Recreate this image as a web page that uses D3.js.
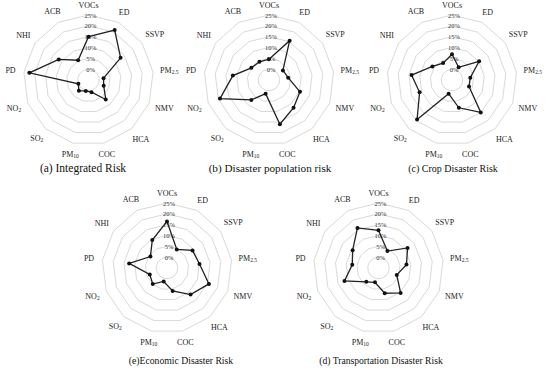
<!DOCTYPE html>
<head>
  <meta charset="utf-8">
  <title>Radar risk charts</title>
  <style>
    body { margin: 0; background: #fff; }
    svg text { font-family: "Liberation Serif", "Times New Roman", serif; }
  </style>
</head>

<body>
  <div id="chart"></div>

  <script src="https://cdn.jsdelivr.net/npm/d3@7"></script>
  <script type="text/javascript">

    // axis names, clockwise from the top
    var categories = ["VOCs", "ED", "SSVP", "PM2.5", "NMV", "HCA", "COC", "PM10", "SO2", "NO2", "PD", "NHI", "ACB"];
    var tickValues = [0, 5, 10, 15, 20, 25];

    // shares in %
    var integratedRisk     = [15, 21, 13, 2, 2.5, 7, 0.8, 0.2, 1.7, 0, 22.5, 11.7, 5.3];
    var populationRisk     = [4.6, 15.5, 2.8, 3.9, 10.3, 12.1, 16, 1.5, 7.3, 19.2, 11.8, 4.9, 4.5];
    var cropRisk           = [6.9, 1.6, 10.2, 3.5, 3.4, 15, 8.2, 1.5, 19.3, 11, 13.8, 6, 3.8];
    var economicRisk       = [16.5, 4.7, 9.3, 10.1, 15.7, 11.4, 5.9, 1.4, 4.9, 3.5, 12.6, 4.3, 9.6];
    var transportationRisk = [12.4, 3.8, 11.3, 8, 4, 10.4, 7, 1.8, 3.5, 11.8, 7.2, 9.5, 15.9];

    var titles = ["(a) Integrated Risk", "(b) Disaster population risk", "(c) Crop Disaster Risk",
                  "(e)Economic Disaster Risk", "(d) Transportation Disaster Risk"];

    // subscripted labels
    var subs = {"PM2.5": ["PM", "2.5"], "PM10": ["PM", "10"], "SO2": ["SO", "2"], "NO2": ["NO", "2"]};

    var panels = [
      {title: titles[0], values: integratedRisk,     cx: 88.5,  cy: 80,  tx: 83,  ty: 168, fs: 11.5},
      {title: titles[1], values: populationRisk,     cx: 269,   cy: 80,  tx: 270, ty: 168, fs: 11.2},
      {title: titles[2], values: cropRisk,           cx: 452,   cy: 80,  tx: 453, ty: 168, fs: 10},
      {title: titles[3], values: economicRisk,       cx: 167,   cy: 268, tx: 181, ty: 360, fs: 9.7},
      {title: titles[4], values: transportationRisk, cx: 378.5, cy: 268, tx: 381, ty: 360, fs: 9.6}
    ];

    var width = 550, height = 368;
    var n = categories.length;
    var step = 2 * Math.PI / n;

    var r = d3.scaleLinear().domain([-5, 25]).range([0, 65]);

    var svg = d3.select("#chart").append("svg")
        .attr("width", width)
        .attr("height", height);

    var line = d3.lineRadial()
        .angle(function(d, i) { return i * step; })
        .radius(function(d) { return r(d); })
        .curve(d3.curveLinearClosed);

    function xy(i, rad) {
      var a = i * step;
      return [rad * Math.sin(a), -rad * Math.cos(a)];
    }

    panels.forEach(function(p) {
      var g = svg.append("g").attr("transform", "translate(" + p.cx + "," + p.cy + ")");

      // grid rings
      g.selectAll(".ring")
        .data(tickValues)
        .enter().append("path")
          .attr("class", "ring")
          .attr("d", function(t) { return line(categories.map(function() { return t; })); })
          .attr("fill", "none")
          .attr("stroke", "#d9d9d9")
          .attr("stroke-width", 1);

      // value labels on the vertical axis
      g.selectAll(".tick")
        .data(tickValues)
        .enter().append("text")
          .attr("class", "tick")
          .attr("x", 2)
          .attr("y", function(t) { return -r(t); })
          .attr("text-anchor", "middle")
          .attr("dominant-baseline", "central")
          .attr("font-size", "6.5px")
          .attr("fill", "#333")
          .text(function(t) { return t + "%"; });

      // data line + markers
      g.append("path")
        .attr("d", line(p.values))
        .attr("fill", "none")
        .attr("stroke", "#222")
        .attr("stroke-width", 1.3);

      g.selectAll(".dot")
        .data(p.values)
        .enter().append("circle")
          .attr("class", "dot")
          .attr("cx", function(d, i) { return xy(i, r(d))[0]; })
          .attr("cy", function(d, i) { return xy(i, r(d))[1]; })
          .attr("r", 2)
          .attr("fill", "#111");

      // category labels
      categories.forEach(function(c, i) {
        var t = g.append("text")
            .attr("text-anchor", "middle")
            .attr("dominant-baseline", "central")
            .attr("font-size", "8px")
            .attr("fill", "#222");
        if (subs[c]) {
          t.append("tspan").text(subs[c][0]);
          t.append("tspan").attr("font-size", "5.5px").attr("dy", 2).text(subs[c][1]);
        } else {
          t.text(c);
        }
        var hw = t.node().getComputedTextLength() / 2;
        var rad = 75 + 0.7 * hw * Math.abs(Math.sin(i * step));
        var pos = xy(i, rad);
        t.attr("x", pos[0]).attr("y", pos[1]);
      });

      svg.append("text")
        .attr("x", p.tx)
        .attr("y", p.ty)
        .attr("text-anchor", "middle")
        .attr("dominant-baseline", "central")
        .attr("font-size", p.fs + "px")
        .attr("fill", "#111")
        .text(p.title);
    });

  </script>
</body>
